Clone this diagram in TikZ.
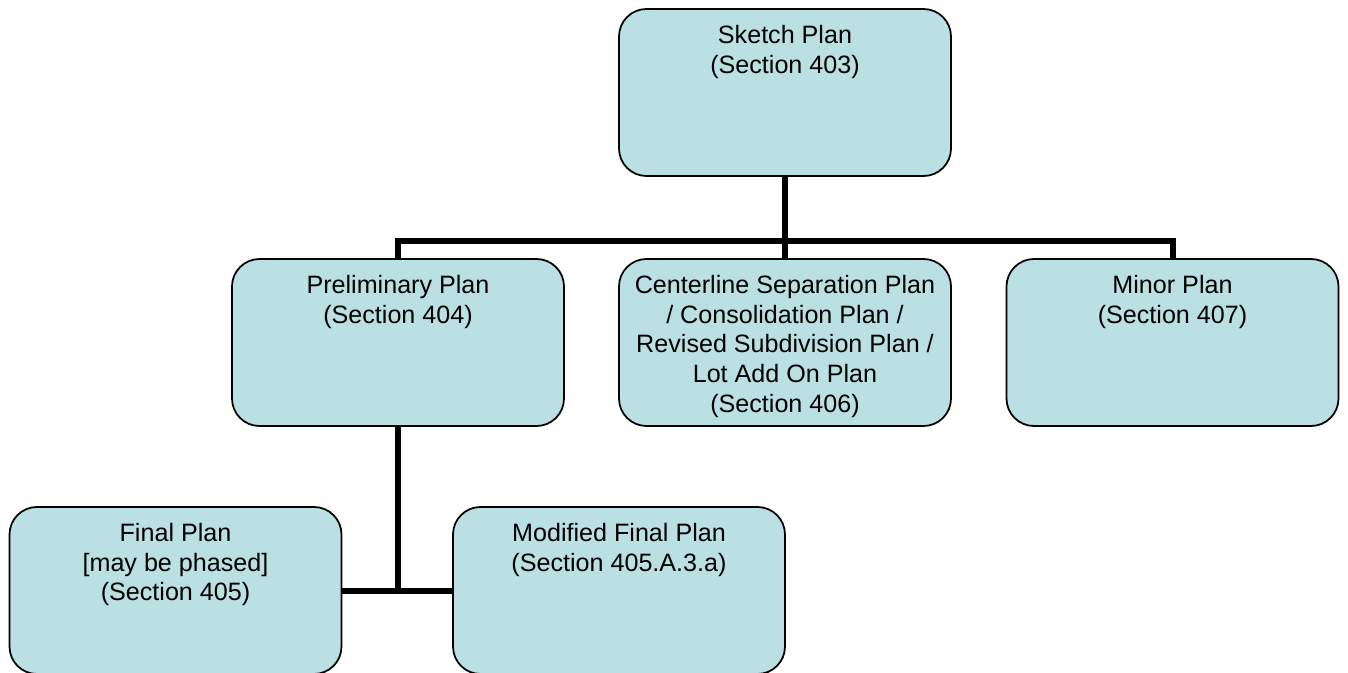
\documentclass[tikz,border=0pt]{standalone}
\usepackage{fontspec}
\setmainfont{Liberation Sans}
\usepackage{tikz}
\usetikzlibrary{calc}
\usetikzlibrary{arrows.meta, positioning, shapes.geometric}

\definecolor{planfill}{RGB}{187,224,227}
\newcommand{\plantext}[1]{\parbox[t][2.7cm][t]{6.64cm}{\centering #1}}

\begin{document}
\begin{tikzpicture}[planbox/.style={rectangle, draw=black, line width=1pt, fill=planfill, rounded corners=0.55cm, inner xsep=0pt, inner ysep=0.32cm, font=\fontsize{14.3}{17}\selectfont}, wire/.style={line width=0.12cm, black}]
    \useasboundingbox (0,0) rectangle (26.96,-13.46);
    \coordinate (bus) at (0,-4.82);
    \node[planbox] (sketch) at (15.70,-1.85) {\plantext{Sketch Plan\\(Section 403)}};
    \node[planbox] (prelim) at (7.96,-6.85) {\plantext{Preliminary Plan\\(Section 404)}};
    \node[planbox] (centre) at (15.70,-6.85) {\plantext{Centerline Separation Plan\\/ Consolidation Plan /\\Revised Subdivision Plan /\\Lot Add On Plan\\(Section 406)}};
    \node[planbox] (minor) at (23.45,-6.85) {\plantext{Minor Plan\\(Section 407)}};
    \node[planbox] (final) at (3.51,-11.81) {\plantext{Final Plan\\{[may be phased]}\\(Section 405)}};
    \node[planbox] (modified) at (12.38,-11.81) {\plantext{Modified Final Plan\\(Section 405.A.3.a)}};
    \draw[wire] (sketch.south) -- (sketch.south |- bus);
    \draw[wire] (prelim.north) -- (prelim.north |- bus) -- (minor.north |- bus) -- (minor.north);
    \draw[wire] (centre.north) -- (centre.north |- bus);
    \draw[wire] (prelim.south) -- (prelim.south |- final.east);
    \draw[wire] (final.east) -- (modified.west);
\end{tikzpicture}
\end{document}
